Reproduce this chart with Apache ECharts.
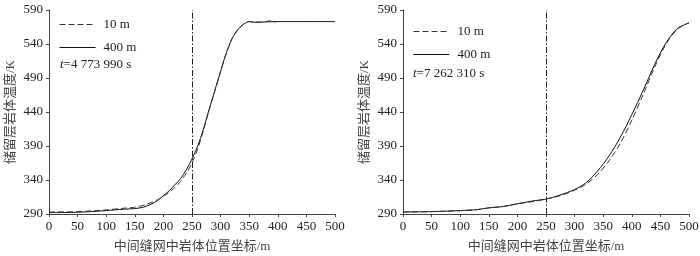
<!DOCTYPE html>
<html>
<head>
<meta charset="utf-8">
<script src="https://cdn.jsdelivr.net/npm/echarts@6/dist/echarts.min.js"></script>
<style>
  html, body { margin: 0; padding: 0; background: #fff; }
  #chart { width: 700px; height: 256px; }
</style>
</head>
<body>
<div id="chart"></div>
<script>
// left panel, t = 4 773 990 s
const leftFine = [[0,293],[50,293.5],[100,296],[130,298.5],[150,300],[170,304],[190,311],[200,316],[210,322],[220,329],[230,338],[240,350],[250,365],[260,386],[270,413],[280,443],[290,471],[300,499],[310,526],[320,548],[330,561],[340,569],[350,573],[360,572],[375,572],[385,574],[395,572.5],[400,573],[500,573]];
const leftCoarse = [[0,292],[50,292.5],[100,295],[130,297],[150,298],[165,300],[180,305],[190,310],[200,317],[210,324],[220,333],[230,342],[240,355],[250,371],[260,390],[270,415],[280,444],[290,472],[300,500],[310,527],[320,548],[330,561],[340,569],[350,573],[360,572],[380,572.5],[400,573],[500,573]];
// right panel, t = 7 262 310 s
const rightFine = [[0,293],[50,293.5],[100,295],[130,296.5],[150,299],[175,301],[200,305],[225,308],[250,312],[275,317],[300,325],[320,334],[340,348],[360,368],[380,394],[400,428],[420,466],[440,506],[460,540],[480,562],[500,571]];
const rightCoarse = [[0,293],[50,293.5],[100,295],[130,296.5],[150,299],[175,301],[200,305],[225,309],[250,312],[275,318],[300,326],[320,336],[340,353],[360,375],[380,403],[400,436],[420,472],[440,510],[460,542],[480,563],[500,571]];

const xTicks = [0, 500, 50];
const yTicks = [290, 590, 50];
const markX = 250;
const seriesNames = ['10 m', '400 m'];
const timeLabels = ['4 773 990 s', '7 262 310 s'];
const xName = '中间缝网中岩体位置坐标/m';
const yName = '储留层岩体温度/K';

const font = '"Liberation Serif", "Times New Roman", serif';
const cjk = '"Liberation Serif", "Noto Sans CJK SC", serif';

const chart = echarts.init(document.getElementById('chart'));

const grids = [
  { left: 49, top: 10, width: 286, height: 204, outerBoundsMode: 'none' },
  { left: 403, top: 10, width: 286, height: 204, outerBoundsMode: 'none' }
];

const xAxis = [0, 1].map(i => ({
  gridIndex: i,
  type: 'value',
  min: xTicks[0], max: xTicks[1], interval: xTicks[2],
  name: xName,
  nameLocation: 'middle',
  nameGap: 26,
  nameTextStyle: { fontFamily: cjk, fontSize: 13, color: '#444' },
  axisLine: { lineStyle: { color: '#444', width: 1 } },
  axisTick: { show: true, length: 3, lineStyle: { color: '#444' } },
  axisLabel: { fontFamily: font, fontSize: 13, color: '#222', margin: 6 },
  splitLine: { show: false }
}));

const yAxis = [0, 1].map(i => ({
  gridIndex: i,
  type: 'value',
  min: yTicks[0], max: yTicks[1], interval: yTicks[2],
  name: yName,
  nameLocation: 'middle',
  nameGap: 32,
  nameTextStyle: { fontFamily: cjk, fontSize: 13, color: '#444' },
  axisLine: { show: true, lineStyle: { color: '#444', width: 1 } },
  axisTick: { show: true, length: 3, lineStyle: { color: '#444' } },
  axisLabel: { fontFamily: font, fontSize: 13, color: '#222', margin: 6 },
  splitLine: { show: false }
}));

function pair(i, fine, coarse) {
  return [
    {
      name: seriesNames[0], type: 'line', xAxisIndex: i, yAxisIndex: i,
      data: fine, symbol: 'none', smooth: 0.3,
      lineStyle: { color: '#333', width: 1, type: [6, 3] },
      itemStyle: { color: '#333' },
      z: 3
    },
    {
      name: seriesNames[1], type: 'line', xAxisIndex: i, yAxisIndex: i,
      data: coarse, symbol: 'none', smooth: 0.3,
      lineStyle: { color: '#111', width: 1 },
      itemStyle: { color: '#111' },
      z: 2,
      markLine: {
        silent: true, symbol: 'none',
        label: { show: false },
        lineStyle: { color: '#222', width: 1, type: [6, 2, 1.5, 2] },
        data: [{ xAxis: markX }]
      }
    }
  ];
}

const legendBase = {
  orient: 'vertical',
  itemWidth: 36, itemHeight: 12, itemGap: 10,
  itemStyle: { opacity: 0 },
  lineStyle: { width: 1 },
  textStyle: { fontFamily: font, fontSize: 13, color: '#222', padding: [0, 0, 0, 3] },
  data: seriesNames
};

const tStyle = {
  fontFamily: font, fontSize: 13, color: '#222', fontWeight: 'normal',
  rich: {
    i: { fontFamily: font, fontStyle: 'italic', fontSize: 13, color: '#222' },
    n: { fontFamily: font, fontSize: 13, color: '#222' }
  }
};

chart.setOption({
  animation: false,
  backgroundColor: '#fff',
  grid: grids,
  xAxis: xAxis,
  yAxis: yAxis,
  legend: [
    Object.assign({}, legendBase, { left: 54, top: 13 }),
    Object.assign({}, legendBase, { left: 408, top: 20 })
  ],
  title: [
    { text: '{i|t}={n|' + timeLabels[0] + '}', left: 55, top: 53, textStyle: tStyle },
    { text: '{i|t}={n|' + timeLabels[1] + '}', left: 408, top: 62, textStyle: tStyle }
  ],
  series: pair(0, leftFine, leftCoarse).concat(pair(1, rightFine, rightCoarse))
});
</script>
</body>
</html>
